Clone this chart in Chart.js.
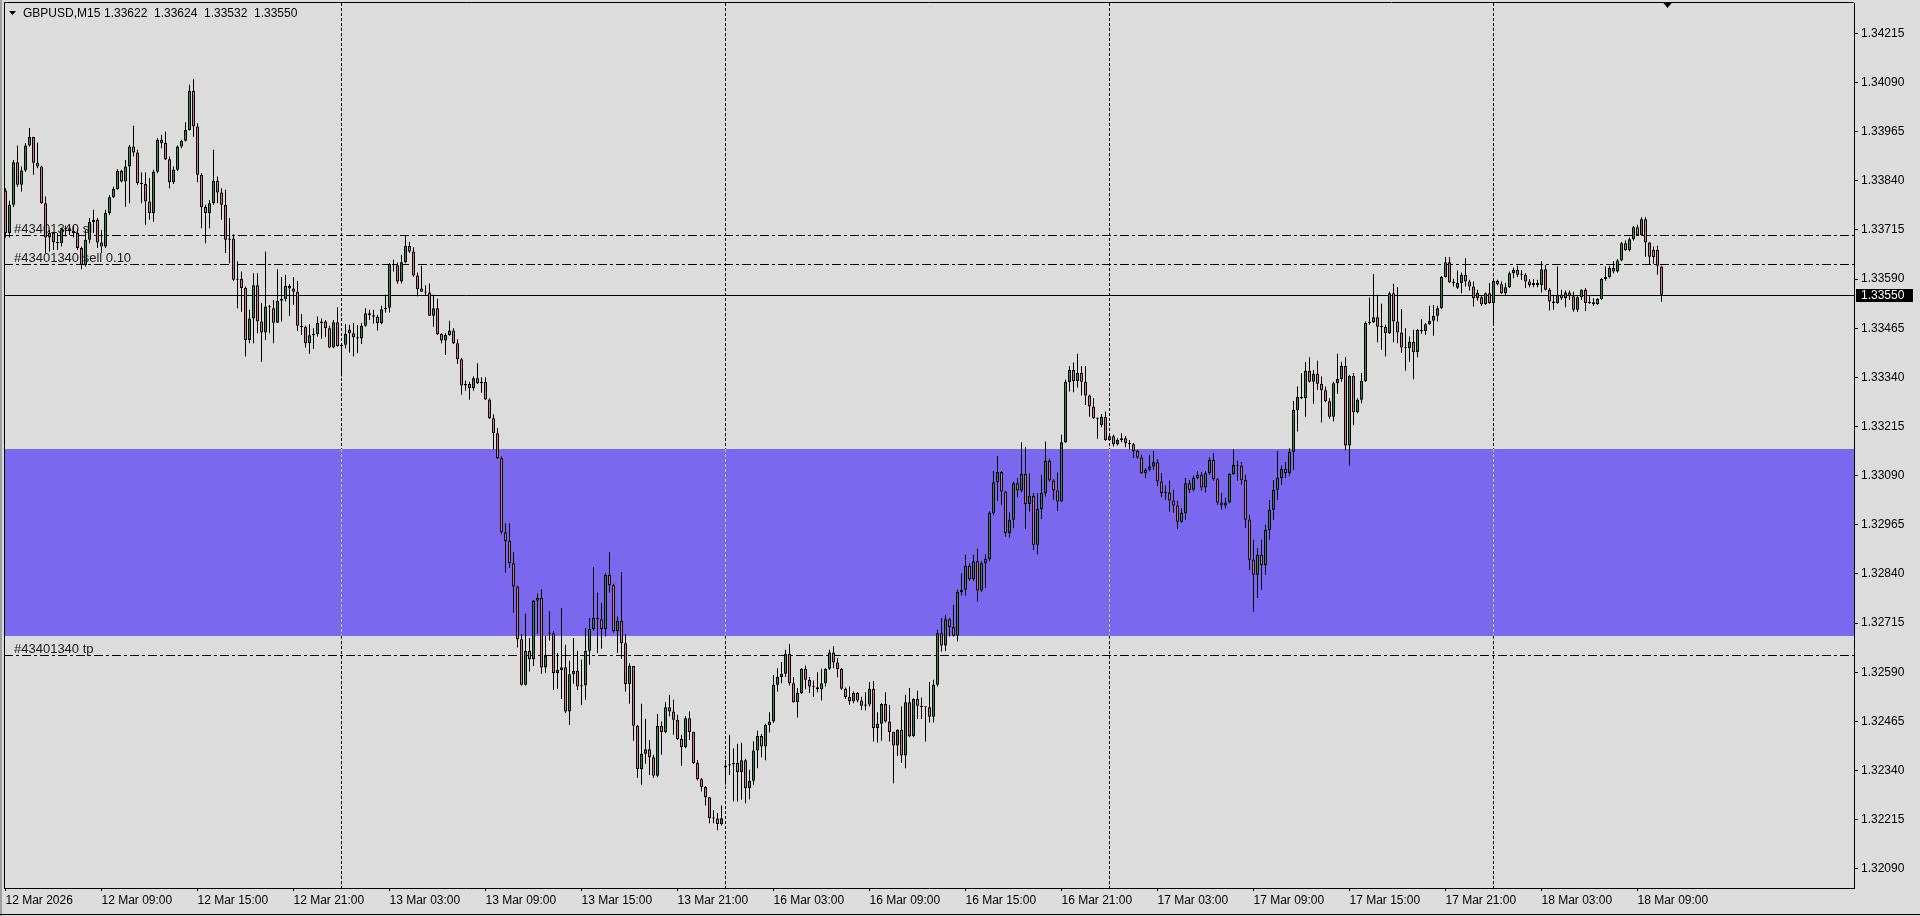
<!DOCTYPE html>
<html>
<head>
<meta charset="utf-8">
<title>GBPUSD,M15</title>
<script src="https://cdn.jsdelivr.net/npm/chart.js@4.4.1/dist/chart.umd.min.js"></script>
<style>
  html, body { margin: 0; padding: 0; background: #dcdcdc; }
  canvas { display: block; }
</style>
</head>
<body>
<canvas id="myChart" width="1920" height="916"></canvas>
<script>
// GBPUSD M15, one entry per bar, 12 Mar 03:00 .. 18 Mar 10:30
const opens = [
1.33815,1.33707,1.33779,1.33887,1.33830,1.33866,1.33930,1.33951,1.33886,1.33876,
1.33783,1.33696,1.33707,1.33684,1.33681,1.33717,1.33719,1.33713,1.33707,1.33669,
1.33626,1.33690,1.33735,1.33741,1.33683,1.33673,1.33758,1.33798,1.33819,1.33865,
1.33838,1.33876,1.33927,1.33912,1.33834,1.33832,1.33787,1.33758,1.33863,1.33944,
1.33936,1.33895,1.33836,1.33868,1.33927,1.33942,1.33969,1.34069,1.33978,1.33855,
1.33773,1.33758,1.33783,1.33840,1.33810,1.33779,1.33690,1.33693,1.33588,1.33591,
1.33567,1.33435,1.33490,1.33574,1.33482,1.33454,1.33520,1.33516,1.33479,1.33535,
1.33539,1.33573,1.33566,1.33558,1.33471,1.33468,1.33427,1.33447,1.33450,1.33478,
1.33482,1.33465,1.33416,1.33480,1.33420,1.33423,1.33461,1.33452,1.33442,1.33439,
1.33471,1.33503,1.33498,1.33494,1.33478,1.33513,1.33517,1.33628,1.33625,1.33584,
1.33633,1.33674,1.33660,1.33599,1.33566,1.33558,1.33556,1.33497,1.33516,1.33450,
1.33434,1.33448,1.33459,1.33427,1.33386,1.33319,1.33323,1.33312,1.33338,1.33325,
1.33328,1.33284,1.33236,1.33198,1.33134,1.32946,1.32924,1.32867,1.32808,1.32674,
1.32558,1.32645,1.32623,1.32772,1.32779,1.32602,1.32688,1.32689,1.32588,1.32596,
1.32603,1.32490,1.32585,1.32594,1.32554,1.32557,1.32645,1.32700,1.32728,1.32725,
1.32700,1.32838,1.32811,1.32694,1.32721,1.32664,1.32560,1.32606,1.32454,1.32344,
1.32383,1.32394,1.32374,1.32327,1.32454,1.32438,1.32501,1.32490,1.32469,1.32420,
1.32400,1.32473,1.32438,1.32359,1.32318,1.32298,1.32272,1.32219,1.32218,1.32204,
1.32348,1.32353,1.32356,1.32359,1.32336,1.32366,1.32295,1.32314,1.32391,1.32428,
1.32401,1.32456,1.32465,1.32558,1.32578,1.32586,1.32637,1.32562,1.32514,1.32537,
1.32599,1.32571,1.32554,1.32552,1.32547,1.32562,1.32599,1.32640,1.32615,1.32598,
1.32548,1.32527,1.32516,1.32537,1.32518,1.32505,1.32508,1.32548,1.32448,1.32459,
1.32509,1.32465,1.32438,1.32404,1.32444,1.32378,1.32514,1.32427,1.32522,1.32505,
1.32501,1.32501,1.32477,1.32558,1.32689,1.32658,1.32725,1.32705,1.32683,1.32794,
1.32800,1.32861,1.32827,1.32872,1.32798,1.32867,1.32878,1.32995,1.33073,1.33099,
1.33050,1.32944,1.32978,1.33071,1.33052,1.33094,1.33018,1.33039,1.32914,1.33005,
1.33046,1.33128,1.33078,1.33052,1.33024,1.33175,1.33328,1.33359,1.33331,1.33351,
1.33329,1.33294,1.33266,1.33236,1.33218,1.33239,1.33181,1.33190,1.33170,1.33181,
1.33185,1.33173,1.33170,1.33153,1.33136,1.33096,1.33105,1.33113,1.33124,1.33075,
1.33046,1.33047,1.33027,1.33014,1.32973,1.32995,1.33071,1.33054,1.33084,1.33092,
1.33060,1.33096,1.33130,1.33081,1.33022,1.33014,1.33022,1.33094,1.33117,1.33115,
1.33079,1.32978,1.32876,1.32838,1.32889,1.32863,1.32952,1.33003,1.33054,1.33084,
1.33107,1.33097,1.33151,1.33257,1.33290,1.33287,1.33357,1.33329,1.33349,1.33324,
1.33307,1.33279,1.33240,1.33325,1.33336,1.33369,1.33167,1.33344,1.33251,1.33283,
1.33331,1.33478,1.33480,1.33493,1.33469,1.33468,1.33452,1.33554,1.33482,1.33454,
1.33416,1.33414,1.33430,1.33404,1.33461,1.33458,1.33475,1.33484,1.33497,1.33516,
1.33595,1.33633,1.33582,1.33568,1.33580,1.33601,1.33584,1.33571,1.33541,1.33544,
1.33526,1.33554,1.33529,1.33585,1.33577,1.33554,1.33569,1.33605,1.33613,1.33601,
1.33601,1.33584,1.33575,1.33580,1.33575,1.33615,1.33563,1.33533,1.33529,1.33550,
1.33541,1.33556,1.33546,1.33512,1.33544,1.33563,1.33529,1.33531,1.33526,1.33539,
1.33590,1.33595,1.33618,1.33609,1.33637,1.33681,1.33664,1.33691,1.33722,1.33702,
1.33742,1.33683,1.33664,1.33664,1.33622
];
const highs = [
1.33821,1.33789,1.33893,1.33930,1.33876,1.33936,1.33974,1.33952,1.33937,1.33878,
1.33800,1.33715,1.33709,1.33707,1.33719,1.33726,1.33724,1.33724,1.33717,1.33673,
1.33715,1.33745,1.33766,1.33745,1.33715,1.33766,1.33804,1.33825,1.33869,1.33868,
1.33893,1.33931,1.33980,1.33919,1.33861,1.33861,1.33847,1.33868,1.33948,1.33957,
1.33965,1.33902,1.33876,1.33930,1.33944,1.33989,1.34084,1.34098,1.33986,1.33859,
1.33779,1.33791,1.33919,1.33851,1.33821,1.33817,1.33745,1.33704,1.33635,1.33609,
1.33571,1.33512,1.33605,1.33605,1.33529,1.33660,1.33524,1.33537,1.33615,1.33595,
1.33601,1.33577,1.33595,1.33585,1.33501,1.33471,1.33475,1.33465,1.33495,1.33490,
1.33486,1.33471,1.33486,1.33518,1.33427,1.33475,1.33474,1.33478,1.33473,1.33478,
1.33516,1.33512,1.33512,1.33499,1.33522,1.33550,1.33630,1.33639,1.33632,1.33652,
1.33702,1.33685,1.33671,1.33607,1.33624,1.33574,1.33579,1.33550,1.33540,1.33452,
1.33452,1.33484,1.33465,1.33437,1.33389,1.33332,1.33329,1.33342,1.33376,1.33340,
1.33340,1.33287,1.33246,1.33211,1.33139,1.32969,1.32969,1.32895,1.32810,1.32687,
1.32739,1.32677,1.32774,1.32790,1.32801,1.32683,1.32746,1.32694,1.32639,1.32753,
1.32660,1.32619,1.32677,1.32645,1.32622,1.32702,1.32728,1.32857,1.32793,1.32766,
1.32842,1.32895,1.32815,1.32732,1.32845,1.32687,1.32613,1.32606,1.32456,1.32510,
1.32472,1.32418,1.32380,1.32484,1.32465,1.32514,1.32533,1.32520,1.32482,1.32431,
1.32478,1.32490,1.32439,1.32367,1.32321,1.32300,1.32272,1.32239,1.32232,1.32251,
1.32367,1.32431,1.32397,1.32408,1.32411,1.32370,1.32342,1.32414,1.32441,1.32433,
1.32459,1.32488,1.32583,1.32600,1.32616,1.32647,1.32662,1.32578,1.32550,1.32600,
1.32607,1.32578,1.32569,1.32590,1.32599,1.32600,1.32647,1.32656,1.32626,1.32600,
1.32551,1.32554,1.32541,1.32539,1.32528,1.32539,1.32565,1.32568,1.32488,1.32511,
1.32539,1.32507,1.32439,1.32445,1.32503,1.32533,1.32550,1.32524,1.32543,1.32526,
1.32503,1.32565,1.32571,1.32698,1.32728,1.32736,1.32728,1.32761,1.32800,1.32842,
1.32889,1.32867,1.32889,1.32904,1.32873,1.32890,1.32999,1.33102,1.33140,1.33102,
1.33051,1.32996,1.33075,1.33084,1.33175,1.33162,1.33096,1.33046,1.33046,1.33092,
1.33177,1.33133,1.33081,1.33098,1.33194,1.33334,1.33368,1.33378,1.33400,1.33368,
1.33369,1.33296,1.33287,1.33238,1.33247,1.33253,1.33196,1.33194,1.33185,1.33198,
1.33191,1.33181,1.33173,1.33156,1.33143,1.33109,1.33143,1.33153,1.33132,1.33096,
1.33065,1.33077,1.33054,1.33026,1.33007,1.33084,1.33079,1.33090,1.33101,1.33099,
1.33101,1.33136,1.33147,1.33084,1.33046,1.33034,1.33096,1.33157,1.33128,1.33125,
1.33092,1.32990,1.32927,1.32906,1.32927,1.32965,1.33028,1.33079,1.33153,1.33115,
1.33125,1.33160,1.33280,1.33317,1.33351,1.33379,1.33391,1.33359,1.33382,1.33342,
1.33317,1.33287,1.33329,1.33400,1.33380,1.33391,1.33346,1.33351,1.33287,1.33351,
1.33482,1.33543,1.33603,1.33550,1.33527,1.33474,1.33558,1.33578,1.33569,1.33514,
1.33465,1.33444,1.33461,1.33463,1.33488,1.33478,1.33522,1.33524,1.33522,1.33598,
1.33646,1.33646,1.33591,1.33612,1.33607,1.33643,1.33588,1.33584,1.33563,1.33548,
1.33556,1.33580,1.33588,1.33588,1.33584,1.33580,1.33609,1.33619,1.33624,1.33613,
1.33605,1.33590,1.33590,1.33588,1.33636,1.33626,1.33567,1.33550,1.33622,1.33563,
1.33561,1.33561,1.33558,1.33547,1.33564,1.33567,1.33546,1.33541,1.33541,1.33592,
1.33622,1.33624,1.33636,1.33641,1.33684,1.33688,1.33696,1.33725,1.33728,1.33747,
1.33747,1.33685,1.33673,1.33675,1.33624
];
const lows = [
1.33696,1.33696,1.33773,1.33825,1.33813,1.33863,1.33927,1.33855,1.33872,1.33781,
1.33656,1.33660,1.33664,1.33664,1.33673,1.33698,1.33702,1.33696,1.33664,1.33615,
1.33622,1.33681,1.33707,1.33669,1.33656,1.33669,1.33753,1.33796,1.33817,1.33836,
1.33774,1.33783,1.33902,1.33830,1.33783,1.33728,1.33741,1.33736,1.33859,1.33923,
1.33893,1.33821,1.33832,1.33865,1.33923,1.33940,1.33968,1.33952,1.33836,1.33719,
1.33681,1.33719,1.33779,1.33783,1.33741,1.33656,1.33630,1.33586,1.33516,1.33507,
1.33393,1.33427,1.33427,1.33452,1.33380,1.33435,1.33452,1.33427,1.33478,1.33482,
1.33533,1.33496,1.33524,1.33458,1.33448,1.33416,1.33400,1.33412,1.33444,1.33438,
1.33442,1.33414,1.33414,1.33418,1.33342,1.33414,1.33403,1.33393,1.33401,1.33425,
1.33469,1.33486,1.33477,1.33459,1.33475,1.33505,1.33505,1.33609,1.33578,1.33579,
1.33630,1.33656,1.33596,1.33546,1.33558,1.33547,1.33496,1.33469,1.33448,1.33427,
1.33397,1.33446,1.33425,1.33374,1.33296,1.33306,1.33283,1.33306,1.33323,1.33301,
1.33283,1.33234,1.33156,1.33133,1.32941,1.32844,1.32856,1.32742,1.32653,1.32556,
1.32556,1.32592,1.32606,1.32688,1.32586,1.32589,1.32671,1.32545,1.32548,1.32522,
1.32486,1.32456,1.32561,1.32545,1.32506,1.32520,1.32609,1.32696,1.32639,1.32650,
1.32681,1.32793,1.32691,1.32639,1.32624,1.32541,1.32510,1.32416,1.32322,1.32304,
1.32357,1.32329,1.32322,1.32323,1.32380,1.32435,1.32478,1.32431,1.32418,1.32352,
1.32397,1.32418,1.32357,1.32315,1.32287,1.32251,1.32206,1.32206,1.32188,1.32200,
1.32304,1.32329,1.32261,1.32261,1.32266,1.32257,1.32267,1.32304,1.32346,1.32374,
1.32366,1.32437,1.32461,1.32541,1.32562,1.32578,1.32556,1.32513,1.32475,1.32535,
1.32547,1.32537,1.32528,1.32539,1.32518,1.32554,1.32596,1.32600,1.32577,1.32545,
1.32522,1.32507,1.32511,1.32514,1.32494,1.32493,1.32503,1.32414,1.32411,1.32416,
1.32462,1.32414,1.32308,1.32377,1.32359,1.32346,1.32425,1.32425,1.32471,1.32471,
1.32414,1.32462,1.32462,1.32554,1.32643,1.32644,1.32681,1.32681,1.32668,1.32785,
1.32785,1.32823,1.32823,1.32770,1.32795,1.32804,1.32872,1.32989,1.33026,1.33016,
1.32935,1.32933,1.32956,1.33035,1.33048,1.32955,1.32999,1.32901,1.32890,1.32980,
1.33037,1.33075,1.33029,1.33001,1.33023,1.33173,1.33304,1.33302,1.33314,1.33294,
1.33270,1.33240,1.33235,1.33184,1.33213,1.33179,1.33179,1.33164,1.33167,1.33175,
1.33162,1.33157,1.33135,1.33133,1.33095,1.33084,1.33101,1.33105,1.33064,1.33035,
1.33029,1.32999,1.32996,1.32955,1.32970,1.32978,1.33046,1.33050,1.33081,1.33052,
1.33047,1.33092,1.33078,1.33016,1.33003,1.33007,1.33020,1.33092,1.33078,1.33067,
1.32957,1.32850,1.32744,1.32779,1.32800,1.32838,1.32927,1.32978,1.33028,1.33067,
1.33084,1.33090,1.33105,1.33202,1.33285,1.33240,1.33327,1.33273,1.33308,1.33225,
1.33277,1.33235,1.33228,1.33298,1.33329,1.33154,1.33115,1.33218,1.33249,1.33274,
1.33328,1.33474,1.33478,1.33429,1.33410,1.33393,1.33450,1.33429,1.33427,1.33402,
1.33357,1.33380,1.33335,1.33391,1.33451,1.33448,1.33474,1.33446,1.33482,1.33514,
1.33594,1.33580,1.33571,1.33565,1.33554,1.33571,1.33561,1.33520,1.33535,1.33522,
1.33524,1.33527,1.33478,1.33574,1.33552,1.33550,1.33567,1.33592,1.33595,1.33588,
1.33567,1.33569,1.33569,1.33569,1.33556,1.33561,1.33510,1.33512,1.33527,1.33537,
1.33518,1.33537,1.33507,1.33506,1.33537,1.33509,1.33527,1.33522,1.33524,1.33537,
1.33586,1.33592,1.33605,1.33607,1.33635,1.33662,1.33660,1.33688,1.33700,1.33700,
1.33646,1.33626,1.33629,1.33601,1.33532
];
const closes = [
1.33707,1.33779,1.33887,1.33830,1.33866,1.33930,1.33951,1.33886,1.33876,1.33783,
1.33696,1.33707,1.33684,1.33681,1.33717,1.33719,1.33713,1.33707,1.33669,1.33626,
1.33690,1.33735,1.33741,1.33683,1.33673,1.33758,1.33798,1.33819,1.33865,1.33838,
1.33876,1.33927,1.33912,1.33834,1.33832,1.33787,1.33758,1.33863,1.33944,1.33936,
1.33895,1.33836,1.33868,1.33927,1.33942,1.33969,1.34069,1.33978,1.33855,1.33773,
1.33758,1.33783,1.33840,1.33810,1.33779,1.33690,1.33693,1.33588,1.33591,1.33567,
1.33435,1.33490,1.33574,1.33482,1.33454,1.33520,1.33518,1.33479,1.33535,1.33539,
1.33573,1.33566,1.33558,1.33471,1.33468,1.33427,1.33447,1.33450,1.33478,1.33482,
1.33465,1.33416,1.33480,1.33420,1.33423,1.33450,1.33452,1.33442,1.33439,1.33471,
1.33503,1.33498,1.33494,1.33478,1.33513,1.33517,1.33628,1.33625,1.33584,1.33633,
1.33674,1.33660,1.33599,1.33564,1.33558,1.33556,1.33497,1.33516,1.33450,1.33434,
1.33448,1.33459,1.33427,1.33386,1.33319,1.33323,1.33312,1.33338,1.33325,1.33328,
1.33284,1.33236,1.33198,1.33134,1.32946,1.32924,1.32867,1.32808,1.32674,1.32558,
1.32645,1.32623,1.32772,1.32779,1.32602,1.32632,1.32689,1.32588,1.32596,1.32603,
1.32490,1.32585,1.32594,1.32554,1.32557,1.32645,1.32700,1.32728,1.32725,1.32700,
1.32838,1.32811,1.32694,1.32721,1.32664,1.32560,1.32606,1.32454,1.32344,1.32383,
1.32394,1.32374,1.32327,1.32454,1.32438,1.32501,1.32490,1.32469,1.32420,1.32400,
1.32473,1.32438,1.32359,1.32318,1.32298,1.32272,1.32219,1.32218,1.32204,1.32219,
1.32353,1.32356,1.32359,1.32336,1.32366,1.32295,1.32314,1.32391,1.32428,1.32401,
1.32456,1.32465,1.32558,1.32578,1.32586,1.32637,1.32562,1.32514,1.32537,1.32599,
1.32571,1.32554,1.32552,1.32547,1.32562,1.32599,1.32640,1.32615,1.32598,1.32548,
1.32527,1.32516,1.32537,1.32518,1.32505,1.32508,1.32548,1.32448,1.32459,1.32509,
1.32465,1.32438,1.32404,1.32444,1.32378,1.32514,1.32427,1.32522,1.32505,1.32501,
1.32501,1.32477,1.32558,1.32689,1.32658,1.32725,1.32705,1.32683,1.32794,1.32800,
1.32861,1.32827,1.32872,1.32798,1.32867,1.32878,1.32995,1.33073,1.33099,1.33050,
1.32944,1.32978,1.33071,1.33052,1.33094,1.33018,1.33039,1.32914,1.33005,1.33046,
1.33128,1.33078,1.33052,1.33024,1.33175,1.33328,1.33359,1.33331,1.33351,1.33329,
1.33294,1.33266,1.33236,1.33235,1.33239,1.33181,1.33190,1.33170,1.33181,1.33185,
1.33173,1.33170,1.33153,1.33136,1.33096,1.33105,1.33113,1.33124,1.33075,1.33046,
1.33047,1.33027,1.33014,1.32973,1.32995,1.33071,1.33054,1.33084,1.33092,1.33060,
1.33096,1.33130,1.33081,1.33022,1.33014,1.33022,1.33094,1.33117,1.33115,1.33079,
1.32978,1.32876,1.32838,1.32889,1.32863,1.32952,1.33003,1.33054,1.33084,1.33107,
1.33097,1.33151,1.33257,1.33290,1.33287,1.33357,1.33329,1.33349,1.33324,1.33307,
1.33279,1.33240,1.33325,1.33336,1.33369,1.33167,1.33344,1.33251,1.33283,1.33331,
1.33478,1.33480,1.33493,1.33469,1.33468,1.33452,1.33554,1.33482,1.33454,1.33416,
1.33414,1.33430,1.33404,1.33461,1.33458,1.33475,1.33484,1.33497,1.33516,1.33595,
1.33633,1.33582,1.33580,1.33580,1.33601,1.33584,1.33571,1.33541,1.33555,1.33526,
1.33554,1.33529,1.33585,1.33577,1.33554,1.33569,1.33605,1.33613,1.33601,1.33601,
1.33584,1.33575,1.33580,1.33575,1.33615,1.33563,1.33533,1.33529,1.33550,1.33541,
1.33556,1.33546,1.33512,1.33544,1.33563,1.33529,1.33531,1.33526,1.33539,1.33590,
1.33595,1.33618,1.33609,1.33637,1.33681,1.33664,1.33691,1.33722,1.33702,1.33742,
1.33683,1.33647,1.33646,1.33624,1.33550
];

const xTickIdx = [0, 24, 48, 72, 96, 120, 144, 168, 192, 216, 240, 264, 288, 312, 336, 360, 384, 408];
const xTickLabels = ["12 Mar 2026", "12 Mar 09:00", "12 Mar 15:00", "12 Mar 21:00", "13 Mar 03:00", "13 Mar 09:00",
  "13 Mar 15:00", "13 Mar 21:00", "16 Mar 03:00", "16 Mar 09:00", "16 Mar 15:00", "16 Mar 21:00",
  "17 Mar 03:00", "17 Mar 09:00", "17 Mar 15:00", "17 Mar 21:00", "18 Mar 03:00", "18 Mar 09:00"];
const yTickValues = [1.32090, 1.32215, 1.32340, 1.32465, 1.32590, 1.32715, 1.32840, 1.32965, 1.33090,
  1.33215, 1.33340, 1.33465, 1.33590, 1.33715, 1.33840, 1.33965, 1.34090, 1.34215];
const dayStarts = [84, 180, 276, 372];
const zonePrices = [1.33158, 1.32681];
const orderNames = ["#43401340 sl", "#43401340 sell 0.10", "#43401340 tp"];
const orderPrices = [1.33702, 1.33628, 1.32634];
const headerTitle = "GBPUSD,M15";
const headerValues = ["1.33622", "1.33624", "1.33532", "1.33550"];

const BULL = '#2e8b57';
const BEAR = '#db7093';
const FONT = '"Liberation Sans", Arial, sans-serif';

const overlay = {
    id: 'overlay',
    beforeDraw(chart) {
        const c = chart.ctx;
        c.save();
        c.fillStyle = '#dcdcdc';
        c.fillRect(0, 0, chart.width, chart.height);
        c.restore();
    },
    beforeDatasetsDraw(chart) {
        const c = chart.ctx;
        const a = chart.chartArea;
        const x = chart.scales.x, y = chart.scales.y;
        c.save();
        c.beginPath();
        c.rect(a.left, a.top, a.right - a.left, a.bottom - a.top);
        c.clip();

        // supply / demand box
        const zt = Math.round(y.getPixelForValue(zonePrices[0]));
        const zb = Math.round(y.getPixelForValue(zonePrices[1]));
        c.fillStyle = '#7b68ee';
        c.fillRect(a.left, zt, a.right - a.left, zb - zt);

        // day separators
        c.lineWidth = 1;
        c.setLineDash([3, 2]);
        dayStarts.forEach(d => {
            const px = Math.floor(x.getPixelForValue(d)) + 0.5;
            c.strokeStyle = '#000';
            c.beginPath();
            c.moveTo(px, a.top); c.lineTo(px, zt);
            c.moveTo(px, zb); c.lineTo(px, a.bottom);
            c.stroke();
            c.strokeStyle = '#c8c878';
            c.beginPath();
            c.moveTo(px, zt); c.lineTo(px, zb);
            c.stroke();
        });

        // order lines
        c.setLineDash([9, 3, 3, 3]);
        c.strokeStyle = '#000';
        c.font = '13px ' + FONT;
        c.textBaseline = 'alphabetic';
        c.textAlign = 'left';
        orderPrices.forEach((p, i) => {
            const py = Math.round(y.getPixelForValue(p)) + 0.5;
            c.beginPath();
            c.moveTo(a.left, py); c.lineTo(a.right, py);
            c.stroke();
            c.fillStyle = '#1a1a1a';
            c.fillText(orderNames[i], 14, py - 2.5);
        });

        // bid line
        c.setLineDash([]);
        const by = Math.round(y.getPixelForValue(closes[closes.length - 1])) + 0.5;
        c.beginPath();
        c.moveTo(a.left, by); c.lineTo(a.right, by);
        c.stroke();
        c.restore();
    },
    afterDraw(chart) {
        const c = chart.ctx;
        const a = chart.chartArea;
        const x = chart.scales.x, y = chart.scales.y;
        c.save();
        // frame top / left
        c.strokeStyle = '#000';
        c.lineWidth = 1;
        c.beginPath();
        c.moveTo(a.left + 0.5, a.bottom); c.lineTo(a.left + 0.5, a.top - 0.5);
        c.lineTo(a.right, a.top - 0.5);
        c.stroke();
        c.fillStyle = '#a0a0a0';
        c.fillRect(0, 0, 2, chart.height);

        // header
        c.fillStyle = '#000';
        c.beginPath();
        c.moveTo(9, 11); c.lineTo(16, 11); c.lineTo(12.5, 15); c.closePath();
        c.fill();
        c.font = '12px ' + FONT;
        c.textBaseline = 'alphabetic';
        c.textAlign = 'left';
        c.fillText(headerTitle, 23, 17);
        headerValues.forEach((t, i) => c.fillText(t, 104 + i * 50, 17));

        // chart shift marker
        const sx = x.getPixelForValue(415.5);
        c.beginPath();
        c.moveTo(sx - 5, a.top - 1); c.lineTo(sx + 5, a.top - 1); c.lineTo(sx, a.top + 5); c.closePath();
        c.fill();

        // bid label on price axis
        const last = closes[closes.length - 1];
        const by = Math.round(y.getPixelForValue(last));
        c.fillStyle = '#000';
        c.fillRect(a.right + 2, by - 6, 57, 13);
        c.fillStyle = '#fff';
        c.textBaseline = 'middle';
        c.fillText(last.toFixed(5), a.right + 7, by + 0.5);

        // bottom tab strip edge
        c.fillStyle = '#000';
        c.fillRect(0, 914, chart.width, 1);
        c.restore();
    }
};

function start() {
    const ctx = document.getElementById("myChart");
    const bodies = opens.map((o, i) => ({ x: i, y: [o, closes[i]] }));
    const wicks = lows.map((l, i) => ({ x: i, y: [l, highs[i]] }));
    const bodyColors = opens.map((o, i) => closes[i] >= o ? BULL : BEAR);

    myChart = new Chart(ctx, {
        type: 'bar',
        data: {
            datasets: [
                {
                    label: 'body',
                    data: bodies,
                    backgroundColor: bodyColors,
                    borderColor: '#000',
                    borderWidth: 1,
                    borderSkipped: false,
                    barThickness: 3,
                    minBarLength: 1,
                    inflateAmount: 0
                },
                {
                    label: 'wick',
                    data: wicks,
                    backgroundColor: '#000',
                    borderWidth: 0,
                    barThickness: 1,
                    minBarLength: 1,
                    inflateAmount: 0
                }
            ]
        },
        options: {
            responsive: false,
            animation: false,
            devicePixelRatio: 1,
            events: [],
            layout: { autoPadding: false, padding: { left: 4, top: 3, right: 0, bottom: 0 } },
            plugins: {
                legend: { display: false },
                tooltip: { enabled: false }
            },
            scales: {
                x: {
                    type: 'linear',
                    stacked: true,
                    offset: false,
                    min: -0.375,
                    max: 462.125,
                    position: 'bottom',
                    afterBuildTicks: s => { s.ticks = xTickIdx.map(v => ({ value: v })); },
                    afterFit: s => { s.height = 28; s.paddingLeft = 0; s.paddingRight = 0; },
                    grid: { offset: false, drawOnChartArea: false, drawTicks: true, tickLength: 3, color: '#000' },
                    border: { display: true, color: '#000', width: 1 },
                    ticks: {
                        autoSkip: false,
                        maxRotation: 0,
                        minRotation: 0,
                        align: 'start',
                        padding: 2,
                        color: '#000',
                        font: { family: FONT, size: 12 },
                        callback: v => xTickLabels[xTickIdx.indexOf(v)]
                    }
                },
                y: {
                    type: 'linear',
                    stacked: false,
                    position: 'right',
                    min: 1.320413,
                    max: 1.342921,
                    afterBuildTicks: s => { s.ticks = yTickValues.map(v => ({ value: v })); },
                    afterFit: s => { s.width = 66; s.paddingTop = 0; s.paddingBottom = 0; },
                    grid: { drawOnChartArea: false, drawTicks: true, tickLength: 4, color: '#000' },
                    border: { display: true, color: '#000', width: 1 },
                    ticks: {
                        padding: 3,
                        color: '#000',
                        font: { family: FONT, size: 12 },
                        callback: v => v.toFixed(5)
                    }
                }
            }
        },
        plugins: [overlay]
    });
}

start();
</script>
</body>
</html>
